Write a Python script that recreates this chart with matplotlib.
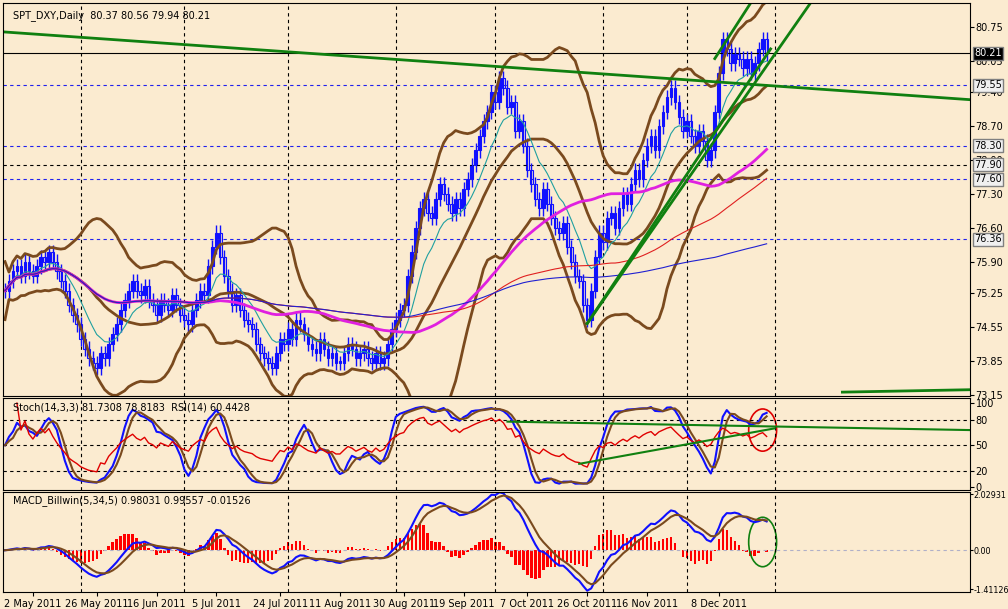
import numpy as np, pandas as pd, matplotlib
matplotlib.use("Agg")
import matplotlib.pyplot as plt
from matplotlib.patches import Ellipse

closes = [75.3,75.5,75.7,75.8,75.6,75.9,75.7,75.6,75.8,76.0,75.9,76.1,
75.9,75.7,75.5,75.3,75.0,74.8,74.6,74.3,74.1,73.9,73.8,73.7,
74.0,73.9,74.2,74.4,74.6,74.9,75.1,75.3,75.5,75.3,75.2,75.4,
75.1,75.0,74.8,75.1,75.0,74.9,75.2,75.0,74.8,74.7,74.6,74.9,
75.1,75.3,75.2,75.8,76.2,76.5,76.0,75.6,75.3,75.0,75.2,74.9,
74.7,74.6,74.5,74.2,74.0,73.9,73.8,73.7,74.0,74.3,74.2,74.5,
74.3,74.7,74.6,74.4,74.2,74.1,74.0,74.3,74.1,73.9,74.0,73.8,
73.8,74.0,74.2,74.1,73.9,74.0,74.1,73.9,73.8,74.0,73.8,73.9,
74.2,74.5,74.7,74.9,75.0,75.6,76.1,76.6,77.0,77.2,76.9,76.8,
77.2,77.5,77.3,77.1,76.9,77.2,77.0,77.4,77.6,77.9,78.2,78.5,
78.8,79.0,79.4,79.2,79.7,79.5,79.1,79.2,78.6,78.8,78.3,77.8,
77.5,77.2,77.0,77.4,77.1,76.8,76.6,76.5,76.7,76.2,75.9,75.6,
75.5,75.0,74.7,75.3,76.0,76.5,76.3,76.8,76.9,76.6,77.0,77.3,
77.1,77.5,77.8,77.6,78.0,78.3,78.5,78.2,78.7,79.0,79.3,79.5,
79.2,78.9,78.6,78.8,78.5,78.3,78.6,78.4,78.0,78.2,79.0,79.8,
80.5,80.3,80.0,80.2,80.1,79.9,80.1,79.8,80.0,80.3,80.5,80.21]
date_labels = ["2 May 2011","26 May 2011","16 Jun 2011","5 Jul 2011","24 Jul 2011","11 Aug 2011",
               "30 Aug 2011","19 Sep 2011","7 Oct 2011","26 Oct 2011","16 Nov 2011","8 Dec 2011"]
date_pos = [7,23,38,53,69,84,100,115,131,146,161,179]
price_ticks = [80.75,80.05,79.40,78.70,78.00,77.30,76.60,75.90,75.25,74.55,73.85,73.15]
level_lines = [79.55,78.30,77.90,77.60,76.36]

bg = "#FBEBD0"
c = pd.Series(closes)
n = len(c)
x = np.arange(n)
o = c.shift(1).fillna(c[0])
hi = np.maximum(o, c) + 0.15
lo = np.minimum(o, c) - 0.15

fig = plt.figure(figsize=(10.08, 6.09), dpi=100, facecolor=bg)
W, H = 1008, 609
FS = 7
def ax_at(l, t, r, b):
    a = fig.add_axes([l/W, 1-b/H, (r-l)/W, (b-t)/H], facecolor=bg)
    a.yaxis.tick_right()
    a.tick_params(axis='y', labelsize=FS, length=3, pad=1)
    a.set_xticks([]); a.set_xlim(-0.5, 242)
    return a

gridx = [19, 45, 71, 98, 123, 150, 171, 193]
ax = ax_at(3, 3, 970, 396)
ax.set_ylim(73.12, 81.25)
ax.set_yticks(price_ticks); ax.set_yticklabels([f"{v:.2f}" for v in price_ticks])
for gx_ in gridx: ax.axvline(gx_, color='k', ls=(0,(3,3)), lw=0.8)
for v in [79.55,78.30,77.60,76.36]:
    ax.axhline(v, color='#2020ee', ls=(0,(3,3)), lw=0.8)
ax.axhline(77.90, color='k', ls=(0,(3,3)), lw=0.8)
ax.axhline(80.21, color='k', lw=0.8)
ax.vlines(x, lo, hi, color='#1010ff', lw=1)
up = c >= o
ax.bar(x, (c-o).abs().clip(lower=0.04), bottom=np.minimum(o, c), width=0.7,
       color=np.where(up, '#1010ff', bg), edgecolor='#1010ff', lw=0.8)
ma20 = c.rolling(20, min_periods=1).mean(); sd = c.rolling(20, min_periods=2).std().fillna(0.3)
for band in (ma20, ma20+2*sd, ma20-2*sd):
    ax.plot(x, band, color='#7a4a1e', lw=2)
ax.plot(x, c.ewm(span=10).mean(), color='#20a0a0', lw=0.8)
ax.plot(x, c.rolling(50, min_periods=1).mean(), color='#e020e0', lw=2)
ax.plot(x, c.rolling(100, min_periods=1).mean(), color='#e02020', lw=0.8)
ax.plot(x, c.rolling(200, min_periods=1).mean(), color='#2020d0', lw=0.8)
g = '#108010'
ax.plot([0, 242], [80.65, 79.25], color=g, lw=2)
ax.plot([146, 202], [74.62, 81.25], color=g, lw=2)
ax.plot([146, 192], [74.62, 80.3], color=g, lw=2)
ax.plot([178, 187], [80.1, 81.25], color=g, lw=2)
ax.plot([210, 242], [73.2, 73.25], color=g, lw=2)
ax.text(2, 81.1, "SPT_DXY,Daily  80.37 80.56 79.94 80.21", fontsize=FS, va='top')
for v in level_lines + [80.21]:
    blk = v == 80.21
    ax.text(243, v, f"{v:.2f}", fontsize=FS, va='center', ha='left', clip_on=False,
            bbox=dict(boxstyle='square,pad=0.15', fc='k' if blk else '#f0f0f0', ec='#808080'),
            color='white' if blk else 'k')

a2 = ax_at(3, 398, 970, 490)
a2.set_ylim(-3, 106); a2.set_yticks([0,20,50,80,100])
for g_ in gridx: a2.axvline(g_, color='k', ls=(0,(3,3)), lw=0.8)
for v in (20,50,80): a2.axhline(v, color='k', ls=(0,(3,3)), lw=0.8)
ll = pd.Series(lo).rolling(14, min_periods=1).min(); hh = pd.Series(hi).rolling(14, min_periods=1).max()
k = (100*(c-ll)/(hh-ll)).rolling(3, min_periods=1).mean()
d = k.rolling(3, min_periods=1).mean()
delta = c.diff().fillna(0)
rs = delta.clip(lower=0).ewm(alpha=1/14).mean()/(-delta.clip(upper=0)).ewm(alpha=1/14).mean().replace(0,1e-9)
rsi = 100-100/(1+rs)
a2.plot(x, k, color='#1010ff', lw=1.5); a2.plot(x, d, color='#7a4a1e', lw=1.5); a2.plot(x[3:], rsi[3:], color='#e00000', lw=1)
a2.plot([126, 242], [78, 68], color=g, lw=1.5); a2.plot([144, 193], [28, 70], color=g, lw=1.5)
a2.add_patch(Ellipse((190, 68), 7, 50, fill=False, ec='#e00000', lw=1.2))
a2.text(2, 101, "Stoch(14,3,3) 81.7308 78.8183  RSI(14) 60.4428", fontsize=FS, va='top')

a3 = ax_at(3, 492, 970, 592)
ema5 = c.ewm(span=5).mean(); ema34 = c.ewm(span=34).mean()
macd = ema5-ema34; sig = macd.ewm(span=5).mean()
a3.set_ylim(-1.52, 2.12); a3.set_yticks([2.02931, 0, -1.41126])
a3.set_yticklabels(["2.02931","0.00","-1.41126"])
a3.tick_params(axis='y', labelsize=5.8, pad=0.5, length=2)
for g_ in gridx: a3.axvline(g_, color='k', ls=(0,(3,3)), lw=0.8)
a3.axhline(0, color='#b0b0c8', ls=(0,(3,3)), lw=0.8)
a3.bar(x, 2*(macd-sig), width=0.6, color='#ff0000')
a3.plot(x, macd, color='#1010ff', lw=1.5); a3.plot(x, sig, color='#7a4a1e', lw=1.5)
a3.add_patch(Ellipse((190, 0.3), 7, 1.8, fill=False, ec='#108010', lw=1.2))
a3.text(2, 2.0, "MACD_Billwin(5,34,5) 0.98031 0.99557 -0.01526", fontsize=FS, va='top')
a3.set_xticks(date_pos); a3.set_xticklabels(date_labels, fontsize=FS)
a3.tick_params(axis='x', length=3, pad=2)
fig.savefig("out.png", dpi=100, facecolor=bg)
